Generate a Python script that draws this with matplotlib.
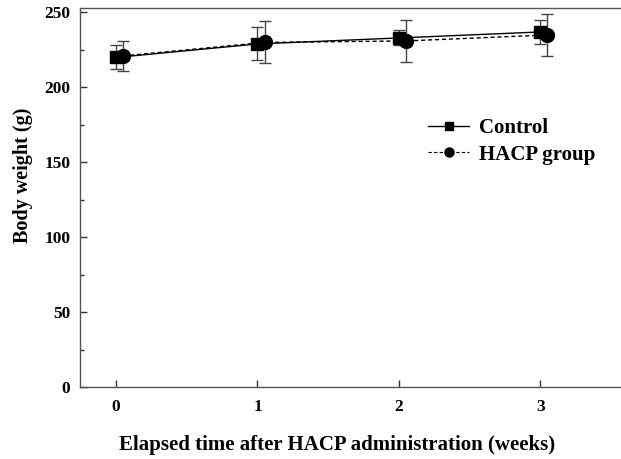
import matplotlib
matplotlib.use("Agg")
import matplotlib.pyplot as plt
from matplotlib.lines import Line2D
import numpy as np

weeks = [0, 1, 2, 3]
control = [220, 229, 233, 237]
control_err = [8, 11, 5, 8]
hacp = [221, 230, 231, 235]
hacp_err = [10, 14, 14, 14]
offset = 0.05
xticks = [0, 1, 2, 3]
yticks = [0, 50, 100, 150, 200, 250]

plt.rcParams['font.family'] = ['Liberation Serif', 'DejaVu Serif']
plt.rcParams['font.weight'] = 'bold'

fig = plt.figure(figsize=(6.21, 4.59), dpi=100)
ax = fig.add_axes([0.1288, 0.1569, 0.8712, 0.8257])

c_x = np.array(weeks, dtype=float)
h_x = np.array(weeks, dtype=float) + offset

ax.errorbar(c_x, control, yerr=control_err, color='black', ecolor='#444444',
            elinewidth=1, capsize=4, capthick=1, linestyle='-', linewidth=1,
            marker='s', markersize=9, zorder=3)
ax.errorbar(h_x, hacp, yerr=hacp_err, color='black', ecolor='#444444',
            elinewidth=1, capsize=4, capthick=1, linestyle=(0, (3, 2)), linewidth=1,
            marker='o', markersize=10, zorder=3)

ax.set_xlim(-0.255, 3.57)
ax.set_ylim(0, 253)
ax.set_xticks(xticks)
ax.set_yticks(yticks)
ax.set_yticks(np.arange(25, 250, 50), minor=True)
ax.tick_params(axis='both', direction='in', length=5, width=1, colors='#333333',
               labelsize=12.5, labelcolor='black')
ax.tick_params(axis='y', which='minor', direction='in', length=3, width=1, colors='#333333')
ax.tick_params(axis='x', pad=9)
ax.tick_params(axis='y', pad=7)
for lbl in ax.get_xticklabels() + ax.get_yticklabels():
    lbl.set_fontweight('bold')

for s in ['left', 'bottom', 'top']:
    ax.spines[s].set_color('#555555')
    ax.spines[s].set_linewidth(1)
ax.spines['right'].set_visible(False)

ax.set_xlabel('Elapsed time after HACP administration (weeks)', fontsize=15, fontweight='bold')
ax.set_ylabel('Body weight (g)', fontsize=14.5, fontweight='bold')
ax.xaxis.set_label_coords((336.7 - 80) / 540, -(435 - 387) / 379)
ax.yaxis.set_label_coords(-(80 - 33) / 540, (387 - 175) / 379)

handles = [
    Line2D([], [], color='black', linestyle='-', linewidth=1, marker='s', markersize=6),
    Line2D([], [], color='black', linestyle=(0, (3, 2)), linewidth=0.8, marker='o', markersize=6.5),
]
leg = ax.legend(handles, ['Control', 'HACP group'], loc='upper left',
                bbox_to_anchor=(0.608, 0.758), frameon=False,
                prop={'size': 15, 'weight': 'bold'}, handlelength=2.0,
                labelspacing=0.3, handletextpad=0.45)

fig.savefig('out.png', dpi=100)
